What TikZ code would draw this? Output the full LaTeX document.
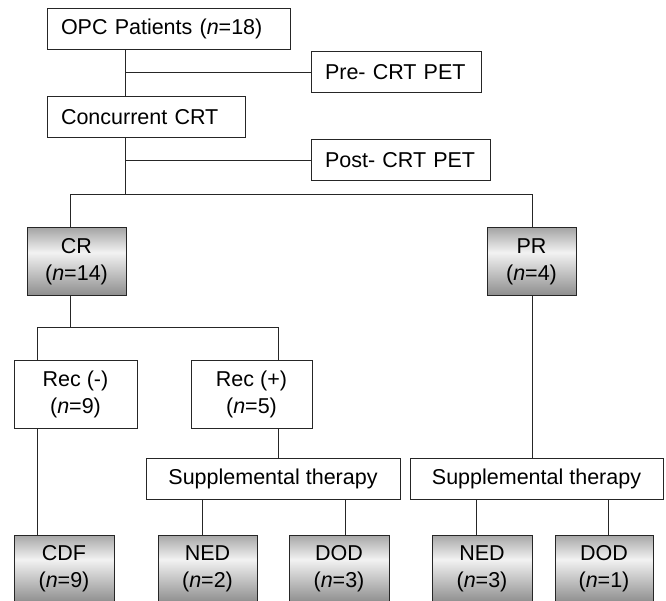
\documentclass[tikz,border=0pt]{standalone}
\usepackage{fontspec}
\setmainfont{Liberation Sans}
\pgfdeclareverticalshading{sombra}{100bp}{color(0bp)=(black!45); color(25bp)=(black!45); color(57bp)=(black!5); color(75bp)=(black!35); color(100bp)=(black!35)}
\tikzset{
  caixa/.style={draw=black!85, line width=1pt, fill=white, inner ysep=0pt, minimum height=41pt, align=center},
  topo/.style={caixa, inner xsep=14pt, text width=#1, align=left},
  cinza/.style={caixa, shade, shading=sombra, minimum height=68pt, inner xsep=0pt, minimum width=#1},
  branca/.style={caixa, inner xsep=0pt, minimum width=#1},
  linha/.style={line width=1pt, black!85},
  every node/.style={font=\fontsize{21.5}{27}\selectfont}
}
\begin{document}
\begin{tikzpicture}[x=1pt,y=-1pt]  %Inicio do fluxograma
  \useasboundingbox (0,0) rectangle (666,601);
            %Caixas de cima
  \node[topo=215pt] (opc) at (168.5,29) {OPC Patients (\textit{n}=18)};
  \node[topo=142pt] (pre) at (396,72.5) {Pre- CRT PET};
  \node[topo=170pt] (crt) at (146,117.5) {Concurrent CRT};
  \node[topo=151pt] (post) at (400.5,160.5) {Post- CRT PET};
            %Resposta
  \node[cinza=99pt] (cr) at (76.5,262) {CR\\(\textit{n}=14)};
  \node[cinza=89pt] (pr) at (531.5,262) {PR\\(\textit{n}=4)};
  \node[branca=123pt, minimum height=68pt] (recneg) at (75.5,394) {Rec (-)\\(\textit{n}=9)};
  \node[branca=121pt, minimum height=68pt] (recpos) at (251.5,394) {Rec (+)\\(\textit{n}=5)};
  \node[branca=254pt] (supa) at (273,478.5) {Supplemental therapy};
  \node[branca=253pt] (supb) at (536.5,478.5) {Supplemental therapy};
            %Desfechos
  \node[cinza=100pt] (cdf) at (64,569) {CDF\\(\textit{n}=9)};
  \node[cinza=99pt] (neda) at (207.5,569) {NED\\(\textit{n}=2)};
  \node[cinza=100pt] (doda) at (339,569) {DOD\\(\textit{n}=3)};
  \node[cinza=100pt] (nedb) at (482,569) {NED\\(\textit{n}=3)};
  \node[cinza=98pt] (dodb) at (604,569) {DOD\\(\textit{n}=1)};
            %Pontos das linhas
  \coordinate (tronco) at (125,195);
  \coordinate (barraCR) at (70,195);
  \coordinate (barraPR) at (532,195);
  \coordinate (ramoCR) at (70,327);
  \coordinate (ramoA) at (37,327);
  \coordinate (ramoB) at (278,327);
  \foreach \n/\x in {a1/202,a2/345,b1/476,b2/608}
    \coordinate (p\n) at (\x,0);
            %Linhas
  \draw[linha] (opc.south -| tronco) -- (crt.north -| tronco); %Tronco
  \draw[linha] (pre.west -| tronco) -- (pre.west);
  \draw[linha] (crt.south -| tronco) -- (tronco);
  \draw[linha] (post.west -| tronco) -- (post.west);
  \draw[linha] (cr.north -| barraCR) -- (barraCR) -- (barraPR) -- (pr.north -| barraPR); %Barra CR/PR
  \draw[linha] (cr.south -| ramoCR) -- (ramoCR);
  \draw[linha] (recneg.north -| ramoA) -- (ramoA) -- (ramoB) -- (recpos.north -| ramoB); %Barra Rec
  \draw[linha] (recneg.south -| ramoA) -- (cdf.north -| ramoA);
  \draw[linha] (recpos.south -| ramoB) -- (supa.north -| ramoB);
  \draw[linha] (pr.south -| barraPR) -- (supb.north -| barraPR);
  \draw[linha] (supa.south -| pa1) -- (neda.north -| pa1);
  \draw[linha] (supa.south -| pa2) -- (doda.north -| pa2);
  \draw[linha] (supb.south -| pb1) -- (nedb.north -| pb1);
  \draw[linha] (supb.south -| pb2) -- (dodb.north -| pb2);
\end{tikzpicture}
\end{document}
